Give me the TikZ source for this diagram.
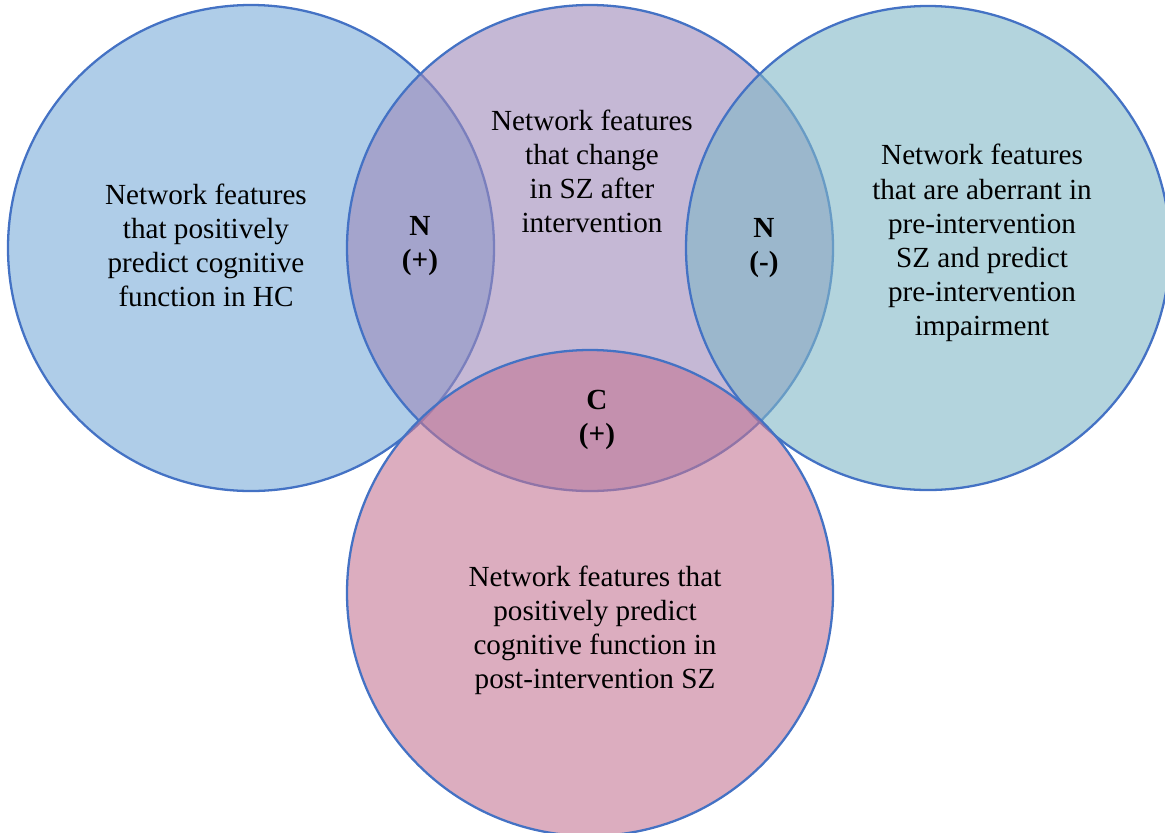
\documentclass[tikz,border=0pt]{standalone}
\usepackage{fontspec}
\setmainfont{Liberation Serif}
\usepackage{xcolor}
\definecolor{ringBlue}{RGB}{68, 114, 196}
\definecolor{hcBlue}{RGB}{121, 172, 217}
\definecolor{szPurple}{RGB}{158, 137, 185}
\definecolor{preTeal}{RGB}{128, 183, 198}
\definecolor{postPink}{RGB}{196, 118, 148}
\usepackage{tikz}
\usetikzlibrary{positioning}

\begin{document}
\begin{tikzpicture}[x=0.02cm, y=-0.02cm,
  setring/.style={draw=ringBlue, line width=1.3pt, fill opacity=0.6},
  desc/.style={align=center, font=\fontsize{16.6}{19.4}\selectfont},
  tag/.style={align=center, font=\fontsize{16.6}{19.4}\selectfont\bfseries}]

  \useasboundingbox (0, 0) rectangle (1165, 832);

  % ── Set centres ──────────────────────────────────────────────────
  \coordinate (hc)   at (251, 248);
  \coordinate (sz)   at (590, 248);
  \coordinate (pre)  at (928, 248);
  \coordinate (post) at (590, 593);

  % ── Circles (drawn in order, later ones over earlier) ─────────────
  \draw[setring, fill=hcBlue]   (hc)   circle[radius=243];
  \draw[setring, fill=szPurple] (sz)   circle[radius=243];
  \draw[setring, fill=preTeal]  (pre)  circle[radius=242];
  \draw[setring, fill=postPink] (post) circle[radius=243];

  % ── Descriptions ─────────────────────────────────────────────────
  \node[desc] (hcText) at (206, 245)
        {Network features\\that positively\\predict cognitive\\function in HC};
  \node[desc] (szText) at (592, 171)
        {Network features\\that change\\in SZ after\\intervention};
  \node[desc] (preText) at (982, 243)
        {Network features\\that are aberrant in\\pre-intervention\\SZ and predict\\pre-intervention\\impairment};
  \node[desc] (postText) at (595, 630)
        {Network features that\\positively predict\\cognitive function in\\post-intervention SZ};

  % ── Overlap tags ─────────────────────────────────────────────────
  \node[tag] (nPlus)  at (420, 246) {N\\(+)};
  \node[tag] (nMinus) at (764, 248) {N\\(-)};
  \node[tag] (cPlus)  at (597, 420) {C\\(+)};

\end{tikzpicture}
\end{document}
